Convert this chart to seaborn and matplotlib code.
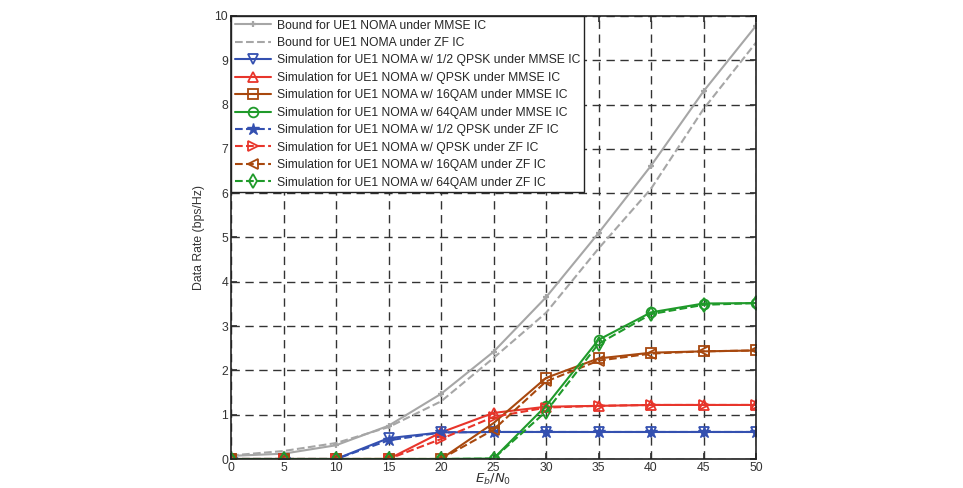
import numpy as np
import pandas as pd
import matplotlib
matplotlib.use("Agg")
import matplotlib.pyplot as plt
import seaborn as sns

snr = [0, 5, 10, 15, 20, 25, 30, 35, 40, 45, 50]
bound_mmse = [0.07, 0.12, 0.31, 0.75, 1.47, 2.42, 3.65, 5.10, 6.62, 8.30, 9.78]
bound_zf = [0.08, 0.18, 0.36, 0.72, 1.30, 2.28, 3.30, 4.75, 6.10, 7.90, 9.40]
qpsk_half_mmse = [0, 0, 0, 0.47, 0.60, 0.61, 0.61, 0.61, 0.61, 0.61, 0.61]
qpsk_mmse = [0, 0, 0, 0, 0.60, 1.04, 1.18, 1.20, 1.22, 1.22, 1.22]
qam16_mmse = [0, 0, 0, 0, 0, 0.81, 1.83, 2.27, 2.40, 2.43, 2.45]
qam64_mmse = [0, 0, 0, 0, 0, 0.01, 1.20, 2.69, 3.31, 3.51, 3.52]
qpsk_half_zf = [0, 0, 0, 0.42, 0.60, 0.61, 0.61, 0.61, 0.61, 0.61, 0.61]
qpsk_zf = [0, 0, 0, 0, 0.45, 0.95, 1.16, 1.20, 1.22, 1.22, 1.22]
qam16_zf = [0, 0, 0, 0, 0, 0.66, 1.75, 2.22, 2.38, 2.43, 2.45]
qam64_zf = [0, 0, 0, 0, 0, 0.01, 1.07, 2.60, 3.27, 3.48, 3.52]

labels = [
    "Bound for UE1 NOMA under MMSE IC",
    "Bound for UE1 NOMA under ZF IC",
    "Simulation for UE1 NOMA w/ 1/2 QPSK under MMSE IC",
    "Simulation for UE1 NOMA w/ QPSK under MMSE IC",
    "Simulation for UE1 NOMA w/ 16QAM under MMSE IC",
    "Simulation for UE1 NOMA w/ 64QAM under MMSE IC",
    "Simulation for UE1 NOMA w/ 1/2 QPSK under ZF IC",
    "Simulation for UE1 NOMA w/ QPSK under ZF IC",
    "Simulation for UE1 NOMA w/ 16QAM under ZF IC",
    "Simulation for UE1 NOMA w/ 64QAM under ZF IC",
]
series = [bound_mmse, bound_zf, qpsk_half_mmse, qpsk_mmse, qam16_mmse, qam64_mmse,
          qpsk_half_zf, qpsk_zf, qam16_zf, qam64_zf]

gray = "#a6a6a6"
blue = "#3450b0"
red = "#e8352b"
brown = "#a8480e"
green = "#1f9a2a"
styles = [
    dict(color=gray, ls="-", marker="+", ms=5, mew=1.6),
    dict(color=gray, ls="--", marker=None),
    dict(color=blue, ls="-", marker="v", ms=7, mfc="none", mew=1.3),
    dict(color=red, ls="-", marker="^", ms=7, mfc="none", mew=1.3),
    dict(color=brown, ls="-", marker="s", ms=7, mfc="none", mew=1.3),
    dict(color=green, ls="-", marker="o", ms=7, mfc="none", mew=1.3),
    dict(color=blue, ls="--", marker="*", ms=9, mew=1.0),
    dict(color=red, ls="--", marker=">", ms=7, mfc="none", mew=1.3),
    dict(color=brown, ls="--", marker="<", ms=7, mfc="none", mew=1.3),
    dict(color=green, ls="--", marker="d", ms=7, mfc="none", mew=1.3),
]

sns.set_theme(style="white")
plt.rcParams["font.family"] = ["Liberation Sans", "DejaVu Sans"]

fig = plt.figure(figsize=(9.63, 4.88), dpi=100)
ax = fig.add_axes([231/963, 1-459/488, (756-231)/963, (459-16)/488])

for lab, vals, st in zip(labels, series, styles):
    df = pd.DataFrame({"x": snr, "y": vals})
    sns.lineplot(data=df, x="x", y="y", ax=ax, label=lab, color=st["color"],
                 linestyle=st["ls"], marker=st.get("marker"), markersize=st.get("ms", 6),
                 markerfacecolor=st.get("mfc", st["color"]), markeredgecolor=st["color"],
                 markeredgewidth=st.get("mew", 1.0), linewidth=1.5)

ax.set_xlim(0, 50)
ax.set_ylim(0, 10)
ax.set_xticks(range(0, 51, 5))
ax.set_yticks(range(0, 11))
ax.grid(True, color="#333333", linestyle=(0, (6, 4)), linewidth=1.0)
ax.tick_params(direction="in", length=4, labelsize=8.8, colors="#333333", pad=2,
               bottom=True, left=True, top=True, right=True)
for s in ax.spines.values():
    s.set_color("#222222")
    s.set_linewidth(1.2)
ax.set_ylabel("Data Rate (bps/Hz)", fontsize=8.8, color="#333333", labelpad=7)
ax.set_xlabel(r"$E_b/N_0$", fontsize=9.5, color="#333333", labelpad=-1)

leg = ax.legend(loc="upper left", borderaxespad=0, fontsize=8.7, frameon=True,
                fancybox=False, edgecolor="#222222", framealpha=1,
                handlelength=3.0, labelspacing=0.45, borderpad=0.3, handletextpad=0.5)
leg.get_frame().set_linewidth(1.0)

fig.savefig("out.png", dpi=100)
